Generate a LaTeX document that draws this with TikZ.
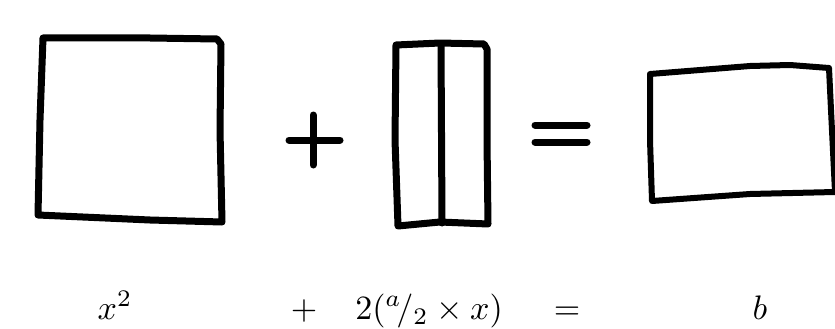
\documentclass[tikz,border=0pt]{standalone}
\begin{document}
\begin{tikzpicture}[x=1pt,y=-1pt,
  sketch/.style={line width=7pt,line join=round,line cap=round},
  lbl/.style={scale=3.4,anchor=base,inner sep=0pt}]
\useasboundingbox (0,0) rectangle (835,329);
% square x^2
\draw[sketch] (43,38) -- (150,38) -- (217,39) -- (221,44) -- (220,130) -- (222,222) -- (150,220) -- (38,215) -- (40,120) -- cycle;
% plus
\draw[sketch] (289,140) -- (340,140);
\draw[sketch] (313,115) -- (313,165);
% middle rectangle with divider
\draw[sketch] (396,45) -- (440,43) -- (484,44) -- (487,49) -- (487,140) -- (488,224) -- (440,222) -- (398,226) -- (395,140) -- cycle;
\draw[sketch] (441,44) -- (442,223);
% equals
\draw[sketch] (535,125) -- (587,125);
\draw[sketch] (535,142) -- (587,142);
% right rectangle
\draw[sketch,line width=6pt] (650,74) -- (700,70) -- (750,66) -- (790,65) -- (829,68) -- (831,110) -- (835,192) -- (750,194) -- (652,201) -- (650,140) -- cycle;
% labels
\node[lbl] (t1) at (115,319) {$x^{2}$};
\node[lbl] (t2) at (304,319) {$+$};
\node[lbl] (t3) at (429,319) {$2({}^{a}\!/{}_{2}\times x)$};
\node[lbl] (t4) at (567,319) {$=$};
\node[lbl] (t5) at (760,319) {$b$};
\end{tikzpicture}
\end{document}
